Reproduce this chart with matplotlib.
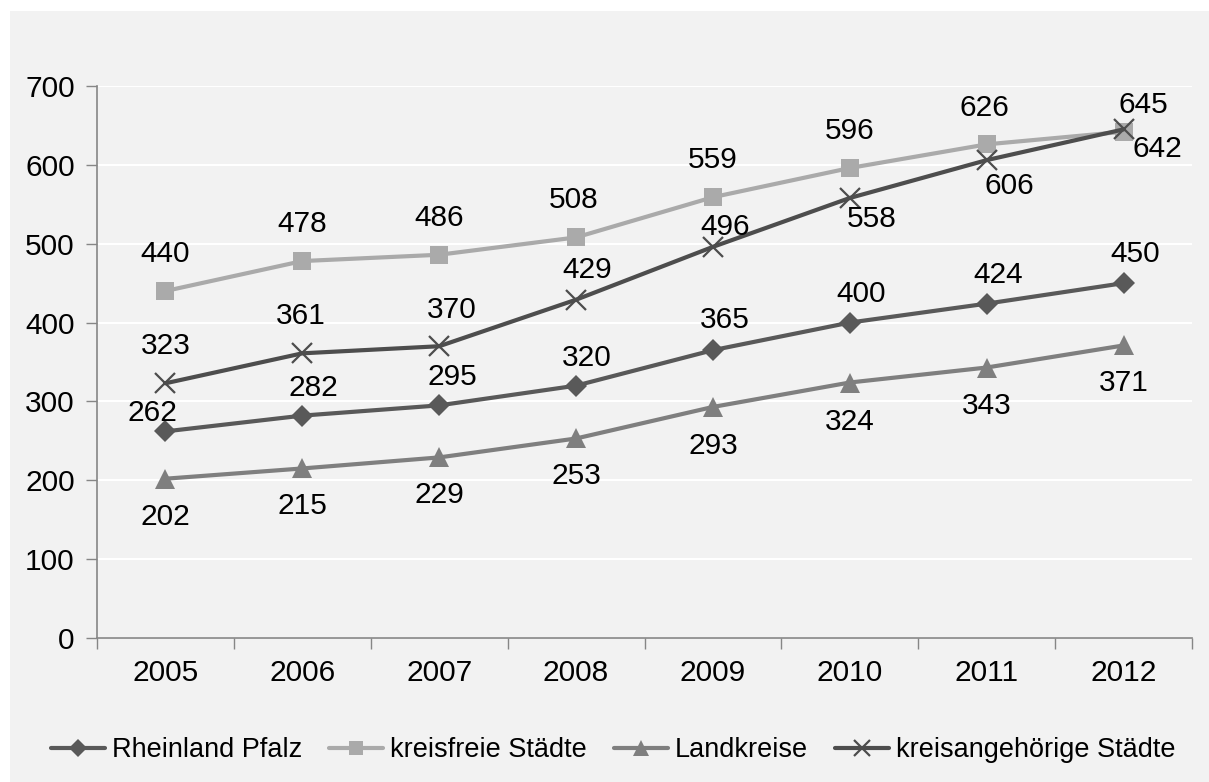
import matplotlib
matplotlib.use("Agg")
import matplotlib.pyplot as plt
from matplotlib.patches import Rectangle
from matplotlib.ticker import FixedLocator, NullFormatter

plt.rcParams['font.family'] = ['Liberation Sans', 'DejaVu Sans']

years = ["2005", "2006", "2007", "2008", "2009", "2010", "2011", "2012"]
rheinland_pfalz = [262, 282, 295, 320, 365, 400, 424, 450]
kreisfreie = [440, 478, 486, 508, 559, 596, 626, 642]
landkreise = [202, 215, 229, 253, 293, 324, 343, 371]
kreisangehoerige = [323, 361, 370, 429, 496, 558, 606, 645]
series_names = ["Rheinland Pfalz", "kreisfreie Städte", "Landkreise", "kreisangehörige Städte"]
y_ticks = [0, 100, 200, 300, 400, 500, 600, 700]

W, H = 1209, 782
fig = plt.figure(figsize=(W / 100, H / 100), dpi=100, facecolor="white")
fig.patches.append(Rectangle((10 / W, 0), 1 - 10 / W, 1 - 11 / H, transform=fig.transFigure,
                             facecolor="#f2f2f2", edgecolor="none", zorder=-10))

ax = fig.add_axes([97 / W, (H - 638) / H, (1192 - 97) / W, (638 - 86) / H])
ax.set_facecolor("#f2f2f2")
x = list(range(len(years)))

styles = [
    dict(color="#595959", marker="D", ms=11, mew=0),
    dict(color="#aaaaaa", marker="s", ms=13, mew=0),
    dict(color="#7f7f7f", marker="^", ms=14, mew=0),
    dict(color="#4d4d4d", marker="x", ms=14, mew=1.6),
]
data = [rheinland_pfalz, kreisfreie, landkreise, kreisangehoerige]

# label offsets in pixels (dx, dy)
offsets = [
    [(-13, 18), (11, 28), (13, 28), (11, 28), (12, 30), (11, 29), (11, 29), (12, 29)],
    [(0, 37), (0, 37), (0, 37), (-2, 37), (0, 37), (0, 37), (-2, 36), (34, -17)],
    [(0, -38), (0, -38), (0, -38), (0, -38), (0, -39), (0, -39), (0, -38), (0, -38)],
    [(0, 37), (-2, 37), (13, 36), (11, 30), (12, 20), (22, -21), (23, -26), (20, 24)],
]

for vals, st, name in zip(data, styles, series_names):
    ax.plot(x, vals, color=st["color"], lw=3, marker=st["marker"], ms=st["ms"],
            mew=st["mew"], mec=st["color"], mfc=st["color"], label=name, zorder=3,
            solid_capstyle="round")
for vals, offs in zip(data, offsets):
    for xi, v, (dx, dy) in zip(x, vals, offs):
        ax.annotate(str(v), (xi, v), xytext=(dx * 0.72, dy * 0.72), textcoords="offset points",
                    ha="center", va="center", fontsize=21.5, color="black", zorder=5)

ax.set_xlim(-0.5, len(years) - 0.5)
ax.set_ylim(0, 700)
ax.set_yticks(y_ticks)
ax.set_yticklabels([str(t) for t in y_ticks])
ax.set_xticks(x)
ax.set_xticklabels(years)
ax.xaxis.set_minor_locator(FixedLocator([i - 0.5 for i in range(len(years) + 1)]))
ax.xaxis.set_minor_formatter(NullFormatter())
ax.tick_params(axis="x", which="major", length=0, pad=15, labelsize=21.5)
ax.tick_params(axis="x", which="minor", length=8, width=1, color="#868686", direction="out")
ax.tick_params(axis="y", length=8, width=1, color="#868686", pad=8, labelsize=21.5)
ax.grid(axis="y", color="white", lw=1.5, zorder=0)
ax.set_axisbelow(True)
for s in ["top", "right"]:
    ax.spines[s].set_visible(False)
for s in ["left", "bottom"]:
    ax.spines[s].set_color("#868686")
    ax.spines[s].set_linewidth(1.2)

leg = fig.legend(loc="center", bbox_to_anchor=(0.507, (H - 750) / H), ncol=4, frameon=False,
                 fontsize=19.5, handlelength=2.0, handletextpad=0.25, columnspacing=1.0,
                 borderaxespad=0, markerscale=0.8)

fig.savefig("out.png", dpi=100, facecolor=fig.get_facecolor())
